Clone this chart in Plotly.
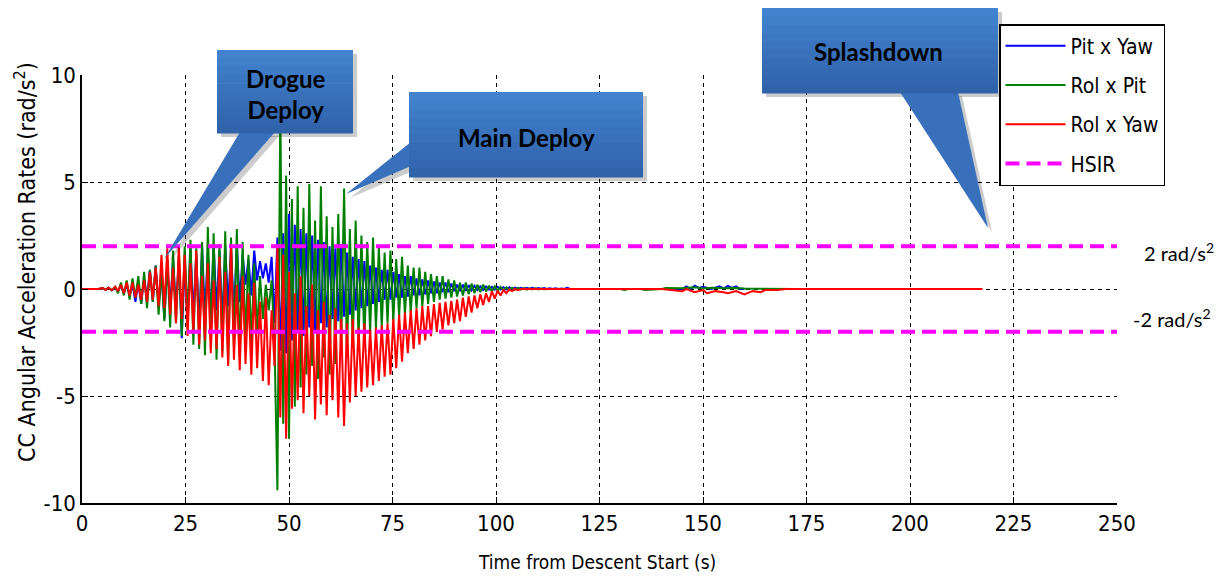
import numpy as np
import plotly.graph_objects as go

# ---------------- data ----------------
osc_start = 8.0      # s, first sample of the oscillating part
osc_step = 0.7       # s, spacing of the read-off peaks/troughs

pit_x_yaw = [
    0.05, -0.1, 0.15, -0.2, 0.2, -0.3, 0.25, -0.6, 0.3, -0.7,
    0.5, -0.4, 0.9, -0.6, 1.1, -0.8, 0.7, -1.4, 1.2, -0.9,
    1.4, -1.0, 1.5, -2.3, 1.2, -1.6, 1.9, -1.2, 1.6, -1.8,
    2.0, -1.3, 1.7, -1.5, 2.1, -1.0, 1.8, -1.6, 2.0, -0.8,
    1.9, -1.2, 2.1, -0.6, 1.6, 0.2, 1.4, -0.3, 1.8, 0.4,
    1.3, 0.5, 1.2, 0.3, 1.5, -1.6, 2.4, -2.9, 2.6, -3.0,
    3.5, -2.4, 3.0, -2.0, 2.8, -2.2, 2.6, -1.8, 2.5, -2.0,
    2.3, -1.6, 2.2, -1.8, 2.0, -1.4, 1.9, -1.5, 2.1, -1.3,
    1.7, -1.2, 1.5, -1.0, 1.4, -0.9, 1.3, -0.8, 1.1, -0.7,
    1.0, -0.6, 0.9, -0.5, 0.9, -0.5, 0.8, -0.4, 0.7, -0.4,
    0.6, -0.35, 0.6, -0.3, 0.5, -0.3, 0.45, -0.25, 0.4, -0.2,
    0.35, -0.2, 0.3, -0.15, 0.3, -0.15, 0.25, -0.1, 0.2, -0.1,
    0.2, -0.08, 0.18, -0.06, 0.15, -0.05, 0.12, -0.04, 0.12, -0.03,
    0.1, -0.03, 0.1, -0.02, 0.08, -0.02, 0.08, -0.01, 0.06, 0.0,
    0.06, 0.0, 0.05, 0.0, 0.05, 0.0, 0.04, 0.0, 0.04, 0.0,
    0.03, 0.0, 0.03, 0.0, 0.02, 0.0, 0.06, 0.0, 0.0, 0.0,
]
rol_x_pit = [
    0.1, -0.2, 0.3, -0.3, 0.4, -0.5, 0.5, -0.4, 0.6, -0.7,
    0.8, -0.9, 0.9, -0.6, 1.1, -1.2, 0.9, -1.5, 1.4, -1.8,
    1.8, -1.6, 1.6, -2.2, 2.0, -1.4, 2.3, -2.6, 1.9, -2.8,
    2.2, -3.1, 2.9, -2.4, 2.6, -3.3, 2.1, -2.9, 2.7, -3.5,
    2.4, -2.7, 2.8, -3.2, 2.2, -2.5, 1.6, -2.6, 1.2, -2.0,
    0.6, -1.4, 0.2, -1.0, 0.4, -2.5, -9.4, 8.5, -6.3, 5.3,
    -7.0, 4.2, -5.5, 4.8, -4.6, 3.8, -4.0, 4.9, -3.6, 3.2,
    -4.2, 4.8, -3.2, 3.4, -4.0, 2.9, -3.5, 3.5, -2.8, 4.7,
    -3.2, 2.8, -2.7, 3.2, -2.4, 2.5, -2.6, 2.2, -2.1, 2.4,
    -1.9, 2.0, -1.8, 1.7, -1.6, 1.8, -1.5, 1.4, -1.3, 1.5,
    -1.2, 1.1, -1.1, 1.0, -0.9, 1.0, -0.8, 0.8, -0.7, 0.7,
    -0.6, 0.6, -0.5, 0.6, -0.45, 0.45, -0.4, 0.4, -0.35, 0.3,
    -0.3, 0.3, -0.25, 0.25, -0.2, 0.2, -0.15, 0.2, -0.12, 0.15,
    -0.1, 0.12, -0.08, 0.1, -0.06, 0.08, -0.05, 0.06, -0.04, 0.05,
    -0.03, 0.04, -0.03, 0.03, -0.02, 0.03, -0.02, 0.02, -0.01, 0.01,
    0.0, 0.0, 0.0, 0.0, 0.0, 0.0, 0.0, 0.0, 0.0, 0.0,
]
rol_x_yaw = [
    0.1, -0.1, 0.2, -0.2, 0.3, -0.3, 0.3, -0.4, 0.2, -0.5,
    0.4, -0.6, 0.8, -0.5, 1.0, -0.8, 1.6, -0.9, 1.9, -1.2,
    1.0, -1.6, 2.0, -1.4, 1.6, -2.2, 1.2, -2.0, 1.8, -2.6,
    0.6, -2.4, 1.2, -3.0, 0.4, -2.8, 1.5, -3.2, 0.8, -3.6,
    2.1, -3.3, 0.2, -3.8, 0.6, -3.5, -0.2, -4.0, 0.3, -3.7,
    -0.6, -4.3, -0.4, -4.5, -1.0, -3.6, 2.0, -6.0, 1.6, -7.0,
    0.8, -5.6, -0.2, -5.2, 0.6, -5.8, -0.8, -5.0, 0.2, -6.1,
    -1.0, -5.4, -0.6, -5.9, -1.2, -5.2, -0.9, -6.0, -1.4, -6.4,
    -1.6, -5.3, -1.4, -5.0, -1.8, -4.8, -1.6, -4.6, -1.9, -4.5,
    -1.8, -4.3, -1.7, -4.1, -1.6, -4.0, -1.4, -3.7, -1.2, -3.4,
    -1.1, -3.0, -1.0, -2.8, -0.9, -2.6, -0.8, -2.4, -0.8, -2.2,
    -0.7, -2.0, -0.65, -1.9, -0.6, -1.7, -0.55, -1.6, -0.5, -1.5,
    -0.4, -1.3, -0.35, -1.1, -0.3, -0.9, -0.25, -0.75, -0.2, -0.6,
    -0.1, -0.45, -0.08, -0.3, -0.05, -0.2, -0.03, -0.1, 0.0, -0.05,
    0.0, 0.0, 0.0, 0.0, 0.0, 0.0, 0.0, 0.0, 0.0, 0.0,
    0.0, 0.0, 0.0, 0.0, 0.0, 0.0, 0.0, 0.0, 0.0, 0.0,
]

# quiet lead-in and small late wiggles (time, value)
lead_t = [0.0, 4.0, 5.0, 5.7, 6.4, 7.2]
lead_v = [0.0, 0.0, 0.04, -0.04, 0.06, -0.06]
pit_x_yaw_tail_t = [120, 145, 146, 147, 148, 149, 150, 152, 154, 155, 156, 157, 158, 159, 160]
pit_x_yaw_tail_v = [0, 0, 0.12, 0, 0.15, 0.05, 0.1, 0, 0.12, 0.02, 0.15, 0.05, 0.12, 0, 0]
rol_x_pit_tail_t = [120, 130, 131, 132, 135, 136, 140, 141, 145, 148, 150, 152, 155, 158, 160, 165, 172]
rol_x_pit_tail_v = [0, 0, -0.05, 0, 0, -0.05, 0, 0.05, 0.03, 0.08, 0.02, 0.06, 0.03, 0.05, 0.02, 0.02, 0.0]
rol_x_yaw_tail_t = [120, 140, 145, 146, 148, 150, 151, 153, 155, 156, 158, 160, 162, 164, 165, 168, 170, 217.5]
rol_x_yaw_tail_v = [0, 0, -0.1, 0, -0.15, -0.05, -0.2, -0.1, -0.15, -0.2, -0.1, -0.25, -0.1, -0.15, -0.05, -0.05, 0, 0]

hsir_level = 2.0
x_ticks = [0, 25, 50, 75, 100, 125, 150, 175, 200, 225, 250]
y_ticks = [-10, -5, 0, 5, 10]
y_tick_text = ["-10", "-5", "0", "5", "10"]

# ---------------- figure ----------------
OFF = 8                      # page body margin of the exported html
PAGE_W, PAGE_H = 1230, 580
PL, PR, PT, PB = 82, 1117, 75, 503   # plot-area edges on the page
W, H = PAGE_W - OFF, PAGE_H - OFF
ML, MT = PL - OFF, PT - OFF
MR, MB = W - (PR - OFF), H - (PB - OFF)
PW, PH = PR - PL, PB - PT


def px(x):
    return (x - PL) / PW


def py(y):
    return (PB - y) / PH


osc_t = list(osc_start + osc_step * np.arange(len(pit_x_yaw)))

NARROW = "Liberation Sans Narrow, Arial Narrow, DejaVu Sans Condensed, sans-serif"
CAL = "Lato, Open Sans, sans-serif"

fig = go.Figure()
series = [
    ("Pit x Yaw", pit_x_yaw, pit_x_yaw_tail_t, pit_x_yaw_tail_v, "#0000ff"),
    ("Rol x Pit", rol_x_pit, rol_x_pit_tail_t, rol_x_pit_tail_v, "#008000"),
    ("Rol x Yaw", rol_x_yaw, rol_x_yaw_tail_t, rol_x_yaw_tail_v, "#ff0000"),
]
for name, vals, tt, tv, col in series:
    fig.add_trace(go.Scatter(
        x=lead_t + osc_t + tt, y=lead_v + vals + tv, mode="lines", name=name,
        legendgroup=name, line=dict(color=col, width=2),
    ))
fig.add_trace(go.Scatter(
    x=[x_ticks[0], x_ticks[-1], None, x_ticks[0], x_ticks[-1]],
    y=[hsir_level, hsir_level, None, -hsir_level, -hsir_level],
    mode="lines", name="HSIR", legendgroup="HSIR",
    line=dict(color="#ff00ff", width=4, dash="14px,7px"),
))

axis_common = dict(
    showline=True, linecolor="black", linewidth=1.5, mirror=False,
    ticks="inside", ticklen=6, tickcolor="black", tickwidth=1,
    showgrid=True, gridcolor="black", gridwidth=1, griddash="4px,4px",
    zeroline=False, tickfont=dict(family=NARROW, size=22, color="black"),
)
fig.update_xaxes(range=[0, 250], tickvals=x_ticks, **axis_common)
fig.update_yaxes(range=[-10, 10], tickvals=y_ticks, ticktext=y_tick_text, **axis_common)

shapes = []
annotations = []
TOP_RGB = (66, 130, 206)
BOT_RGB = (48, 99, 170)
WEDGE = "rgb(56,112,188)"
SHADOW = "rgba(0,0,0,0.20)"
NBANDS = 10


def callout(box, wedge, text, tx, ty):
    x0, y0, x1, y1 = box
    dx = 4
    path = (f"M{px(wedge[0][0]+dx)},{py(wedge[0][1]+dx)} "
            f"L{px(wedge[1][0]+dx)},{py(wedge[1][1]+dx)} "
            f"L{px(wedge[2][0]+dx)},{py(wedge[2][1]+dx)} Z")
    shapes.append(dict(type="path", xref="paper", yref="paper", path=path,
                       fillcolor=SHADOW, line=dict(width=0), layer="above"))
    shapes.append(dict(type="rect", xref="paper", yref="paper",
                       x0=px(x0 + dx), x1=px(x1 + dx), y0=py(y0 + dx), y1=py(y1 + dx),
                       fillcolor=SHADOW, line=dict(width=0), layer="above"))
    path = (f"M{px(wedge[0][0])},{py(wedge[0][1])} "
            f"L{px(wedge[1][0])},{py(wedge[1][1])} "
            f"L{px(wedge[2][0])},{py(wedge[2][1])} Z")
    shapes.append(dict(type="path", xref="paper", yref="paper", path=path,
                       fillcolor=WEDGE, line=dict(width=0), layer="above"))
    hb = (y1 - y0) / NBANDS
    for i in range(NBANDS):
        f = i / (NBANDS - 1)
        c = tuple(round(TOP_RGB[k] + (BOT_RGB[k] - TOP_RGB[k]) * f) for k in range(3))
        shapes.append(dict(type="rect", xref="paper", yref="paper",
                           x0=px(x0), x1=px(x1), y0=py(y0 + hb * i), y1=py(y0 + hb * (i + 1) + 0.6),
                           fillcolor=f"rgb{c}", line=dict(width=0), layer="above"))
    annotations.append(dict(xref="paper", yref="paper", x=px(tx), y=py(ty),
                            xanchor="center", yanchor="middle",
                            text=f"<b>{text}</b>", showarrow=False,
                            font=dict(family=CAL, size=24, color="black")))


callout((217, 50, 353, 133), ((240, 132), (275, 132), (164, 259)), "Drogue<br>Deploy", 286, 94)
callout((409, 92, 643, 177), ((411, 142), (411, 166), (346, 194)), "Main Deploy", 526, 137)
callout((762, 8, 998, 93), ((900, 92), (958, 92), (988, 228)), "Splashdown", 878, 52)

annotations.append(dict(xref="paper", yref="paper", x=px(1179), y=py(252),
                        xanchor="center", yanchor="middle",
                        text="2 rad/s<sup>2</sup>", showarrow=False,
                        font=dict(family=CAL, size=20, color="black")))
annotations.append(dict(xref="paper", yref="paper", x=px(1172), y=py(318),
                        xanchor="center", yanchor="middle",
                        text="-2 rad/s<sup>2</sup>", showarrow=False,
                        font=dict(family=CAL, size=20, color="black")))
annotations.append(dict(xref="paper", yref="paper", x=px(25), y=py(262),
                        xanchor="center", yanchor="middle",
                        text="CC Angular Acceleration Rates (rad/s<sup>2</sup>)",
                        textangle=-90, showarrow=False,
                        font=dict(family=NARROW, size=23, color="black")))
annotations.append(dict(xref="paper", yref="paper", x=px(597), y=py(562),
                        xanchor="center", yanchor="middle",
                        text="Time from Descent Start (s)", showarrow=False,
                        font=dict(family=NARROW, size=19, color="black")))

fig.update_layout(
    width=W, height=H, autosize=False,
    margin=dict(l=ML, r=MR, t=MT, b=MB, pad=0),
    paper_bgcolor="white", plot_bgcolor="white",
    shapes=shapes, annotations=annotations,
    showlegend=True,
    legend=dict(x=px(999), y=py(24), xanchor="left", yanchor="top",
                bgcolor="white", bordercolor="black", borderwidth=1.5,
                font=dict(family=NARROW, size=21, color="black"),
                tracegroupgap=9, traceorder="grouped", itemwidth=60),
)

fig.write_html("out.html")
